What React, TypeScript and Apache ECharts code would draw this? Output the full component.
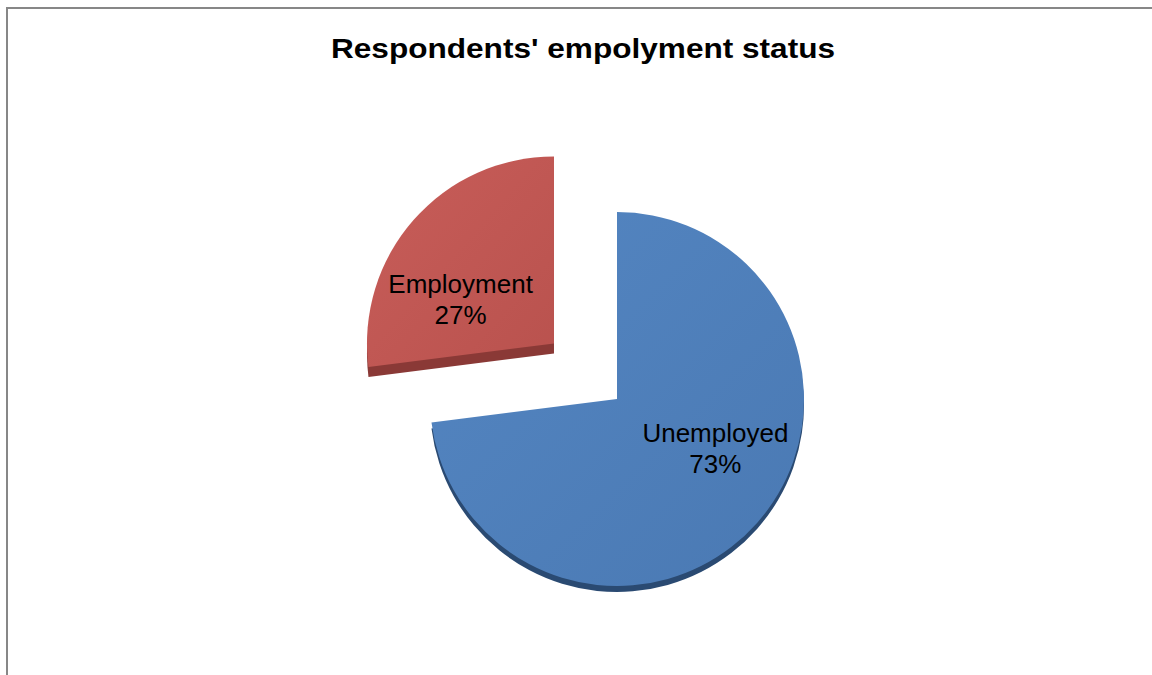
import React, { useEffect, useRef } from "react";
import * as echarts from "echarts";

const TITLE = "Respondents' empolyment status";
const categories = ["Unemployed", "Employment"];
const values = [73, 27];
const explodedFlags = [false, true];
const faceColors = [
  ["#5486C2", "#4A79B3"],
  ["#C85D59", "#B9524E"],
];
const sideColors = ["#2A4A72", "#8A3936"];
const sideDepths = [6, 10];
const labelShift = [
  [26, -14],
  [-21, 20],
];

const CX = 617;
const CY = 399;
const R = 187;
const EXPLODE = 84;
const FONT = "Liberation Sans, Arial, sans-serif";

function grad(c: string[]) {
  return new echarts.graphic.LinearGradient(0, 0, 1, 1, [
    { offset: 0, color: c[0] },
    { offset: 1, color: c[1] },
  ]);
}

export default function App() {
  const ref = useRef<HTMLDivElement>(null);
  useEffect(() => {
    if (!ref.current) return;
    const chart = echarts.init(ref.current, null, { renderer: "svg" });
    const common = {
      type: "pie",
      silent: true,
      radius: R,
      startAngle: 90,
      clockwise: true,
      selectedMode: "single",
      selectedOffset: EXPLODE,
      emphasis: { disabled: true },
      labelLine: { show: false },
    };
    const sideSeries = sideDepths.map((depth, k) => ({
      ...common,
      z: 1,
      center: [CX, CY + depth],
      label: { show: false },
      data: categories.map((name, i) => ({
        name,
        value: values[i],
        selected: explodedFlags[i],
        itemStyle: { color: i === k ? sideColors[i] : "rgba(0,0,0,0)" },
      })),
    }));
    const faceData = categories.map((name, i) => ({
      name,
      value: values[i],
      selected: explodedFlags[i],
      itemStyle: { color: grad(faceColors[i]) },
    }));
    chart.setOption({
      animation: false,
      backgroundColor: "#ffffff",
      graphic: [
        {
          type: "rect",
          shape: { x: 7, y: 8, width: 1170, height: 700 },
          style: { fill: "none", stroke: "#878787", lineWidth: 2 },
          silent: true,
        },
        {
          type: "text",
          x: 583,
          y: 48,
          scaleX: 1.17,
          style: {
            text: TITLE,
            fontFamily: FONT,
            fontSize: 27,
            fontWeight: "bold",
            fill: "#000000",
            textAlign: "center",
            textVerticalAlign: "middle",
          },
          silent: true,
        },
      ],
      series: [
        ...sideSeries,
        {
          ...common,
          z: 2,
          center: [CX, CY],
          label: {
            show: true,
            position: "inner",
            formatter: "{b}\n{d}%",
            fontFamily: FONT,
            fontSize: 26,
            lineHeight: 31,
            color: "#000000",
          },
          labelLayout: (p: any) => ({
            dx: labelShift[p.dataIndex][0],
            dy: labelShift[p.dataIndex][1],
          }),
          data: faceData,
        },
      ],
    });
    return () => chart.dispose();
  }, []);
  return (
    <div
      ref={ref}
      style={{ position: "fixed", left: 0, top: 0, width: 1152, height: 675 }}
    />
  );
}
